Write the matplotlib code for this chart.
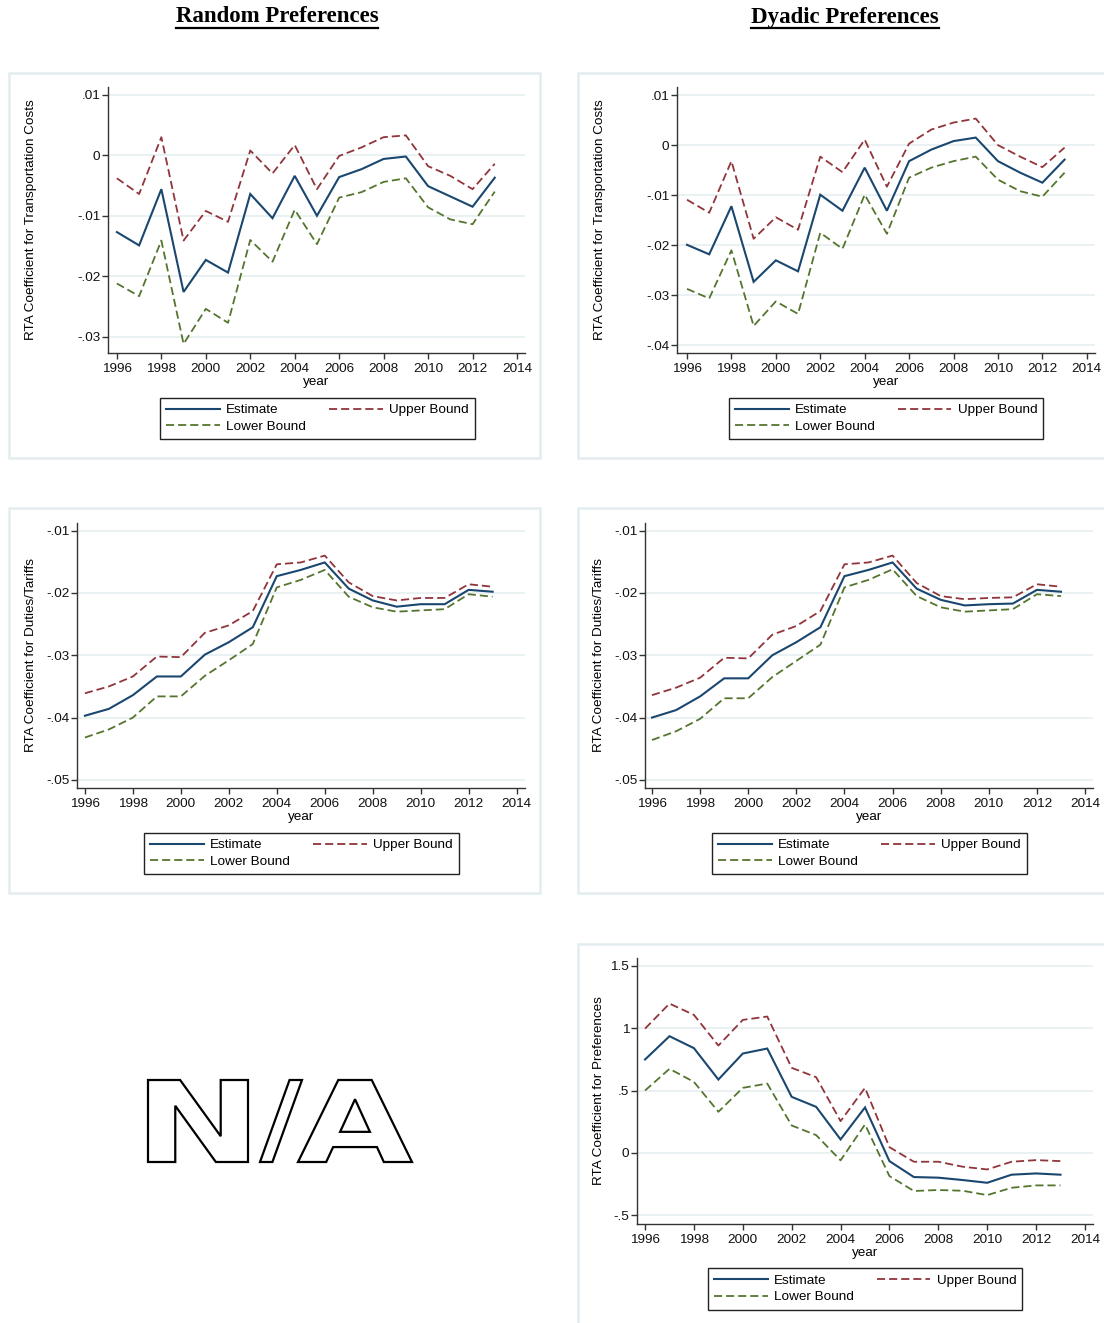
import matplotlib
matplotlib.use("Agg")
import matplotlib.pyplot as plt
from matplotlib.lines import Line2D
from matplotlib.patches import Rectangle, PathPatch
from matplotlib.textpath import TextPath
from matplotlib.font_manager import FontProperties
from matplotlib.transforms import Affine2D

plt.rcParams['font.family'] = ['Liberation Sans', 'DejaVu Sans']

W, H = 1104, 1323

years = list(range(1996, 2014))
xticks = list(range(1996, 2015, 2))

# Random preferences - transportation costs
rand_tc_est = [-0.0127, -0.0149, -0.0056, -0.0226, -0.0173, -0.0194, -0.0064, -0.0104, -0.0034,
               -0.0100, -0.0036, -0.0023, -0.0006, -0.0002, -0.0051, -0.0068, -0.0085, -0.0037]
rand_tc_up = [-0.0038, -0.0064, 0.0030, -0.0141, -0.0092, -0.0110, 0.0008, -0.0030, 0.0017,
              -0.0056, -0.0001, 0.0013, 0.0030, 0.0033, -0.0018, -0.0034, -0.0056, -0.0014]
rand_tc_lo = [-0.0212, -0.0233, -0.0141, -0.0312, -0.0254, -0.0277, -0.0140, -0.0176, -0.0090,
              -0.0147, -0.0070, -0.0061, -0.0044, -0.0038, -0.0086, -0.0106, -0.0114, -0.0060]

# Dyadic preferences - transportation costs
dyad_tc_est = [-0.0199, -0.0218, -0.0122, -0.0273, -0.0230, -0.0252, -0.0099, -0.0131, -0.0045,
               -0.0131, -0.0032, -0.0009, 0.0008, 0.0015, -0.0032, -0.0055, -0.0075, -0.0029]
dyad_tc_up = [-0.0109, -0.0135, -0.0032, -0.0187, -0.0144, -0.0169, -0.0023, -0.0054, 0.0011,
              -0.0083, 0.0003, 0.0031, 0.0045, 0.0053, 0.0000, -0.0023, -0.0044, -0.0005]
dyad_tc_lo = [-0.0287, -0.0306, -0.0210, -0.0361, -0.0312, -0.0337, -0.0175, -0.0207, -0.0099,
              -0.0177, -0.0065, -0.0045, -0.0032, -0.0023, -0.0069, -0.0092, -0.0103, -0.0055]

# Random preferences - duties/tariffs
rand_dt_est = [-0.0397, -0.0386, -0.0364, -0.0334, -0.0334, -0.0299, -0.0279, -0.0255, -0.0173,
               -0.0163, -0.0151, -0.0193, -0.0212, -0.0222, -0.0218, -0.0218, -0.0195, -0.0198]
rand_dt_up = [-0.0361, -0.0350, -0.0334, -0.0302, -0.0303, -0.0264, -0.0252, -0.0229, -0.0154,
              -0.0151, -0.0140, -0.0183, -0.0205, -0.0212, -0.0208, -0.0208, -0.0186, -0.0190]
rand_dt_lo = [-0.0432, -0.0419, -0.0400, -0.0366, -0.0366, -0.0333, -0.0308, -0.0282, -0.0191,
              -0.0179, -0.0163, -0.0206, -0.0223, -0.0230, -0.0228, -0.0226, -0.0202, -0.0206]

# Dyadic preferences - duties/tariffs
dyad_dt_est = [-0.0400, -0.0388, -0.0366, -0.0337, -0.0337, -0.0300, -0.0279, -0.0255, -0.0173,
               -0.0163, -0.0151, -0.0193, -0.0211, -0.0220, -0.0218, -0.0217, -0.0195, -0.0198]
dyad_dt_up = [-0.0364, -0.0352, -0.0336, -0.0304, -0.0305, -0.0267, -0.0253, -0.0229, -0.0154,
              -0.0151, -0.0140, -0.0184, -0.0205, -0.0210, -0.0208, -0.0207, -0.0186, -0.0190]
dyad_dt_lo = [-0.0436, -0.0422, -0.0402, -0.0369, -0.0369, -0.0335, -0.0309, -0.0283, -0.0191,
              -0.0179, -0.0162, -0.0205, -0.0223, -0.0230, -0.0228, -0.0226, -0.0202, -0.0205]

# Dyadic preferences - preferences
dyad_pr_est = [0.749, 0.936, 0.840, 0.588, 0.797, 0.837, 0.449, 0.369, 0.107,
               0.364, -0.067, -0.195, -0.200, -0.219, -0.241, -0.176, -0.166, -0.176]
dyad_pr_up = [0.997, 1.198, 1.107, 0.861, 1.067, 1.094, 0.682, 0.607, 0.254,
              0.521, 0.045, -0.072, -0.072, -0.112, -0.134, -0.072, -0.059, -0.067]
dyad_pr_lo = [0.500, 0.674, 0.569, 0.329, 0.521, 0.556, 0.219, 0.142, -0.061,
              0.227, -0.187, -0.307, -0.299, -0.305, -0.340, -0.281, -0.262, -0.262]

tc_ticks_rand = [0.01, 0, -0.01, -0.02, -0.03]
tc_labels_rand = ['.01', '0', '-.01', '-.02', '-.03']
tc_ticks_dyad = [0.01, 0, -0.01, -0.02, -0.03, -0.04]
tc_labels_dyad = ['.01', '0', '-.01', '-.02', '-.03', '-.04']
dt_ticks = [-0.01, -0.02, -0.03, -0.04, -0.05]
dt_labels = ['-.01', '-.02', '-.03', '-.04', '-.05']
pr_ticks = [1.5, 1, 0.5, 0, -0.5]
pr_labels = ['1.5', '1', '.5', '0', '-.5']

NAVY = '#1a476f'
MAROON = '#90353b'
GREEN = '#55752f'
GRID = '#e8f0f2'
FS = 9.7

fig = plt.figure(figsize=(W / 100, H / 100), dpi=100)

# background layer in pixel coordinates
bg = fig.add_axes([0, 0, 1, 1], zorder=-1)
bg.set_xlim(0, W)
bg.set_ylim(H, 0)
bg.axis('off')

for (x0, y0, x1, y1) in [(9, 73, 540, 458), (578, 73, 1110, 458),
                         (9, 508, 540, 893), (578, 508, 1110, 893),
                         (578, 944, 1110, 1330)]:
    bg.add_patch(Rectangle((x0, y0), x1 - x0, y1 - y0, facecolor='white',
                           edgecolor='#e3edf0', lw=1.8))

# column titles, underlined
fig.canvas.draw()
renderer = fig.canvas.get_renderer()
for cx, title in [(277, 'Random Preferences'), (845, 'Dyadic Preferences')]:
    t = bg.text(cx, 17, title, ha='center', va='center', fontsize=16.5,
                fontweight='bold', family=['Liberation Serif', 'DejaVu Serif'])
    bb = t.get_window_extent(renderer)
    bg.plot([bb.x0, bb.x1], [27.5, 27.5], color='black', lw=1.6)

# N/A placeholder, one outlined glyph per box
na_font = FontProperties(family='DejaVu Sans', weight='bold')
for ch, (gx0, gx1) in [('N', (148, 248)), ('/', (260, 302)), ('A', (298, 412))]:
    tp = TextPath((0, 0), ch, prop=na_font)
    vb = tp.get_extents()
    gy0, gy1 = 1080, 1162
    tr = Affine2D().translate(-vb.x0, -vb.y0).scale((gx1 - gx0) / vb.width,
                                                    -(gy1 - gy0) / vb.height).translate(gx0, gy1)
    bg.add_patch(PathPatch(tr.transform_path(tp), facecolor='white', edgecolor='black', lw=1.6))


def make_panel(rect, xlim, ylim, ticks, labels, est, up, lo, ylab, ylab_x, leg_c):
    left, top, right, bottom = rect
    ax = fig.add_axes([left / W, 1 - bottom / H, (right - left) / W, (bottom - top) / H])
    ax.plot(years, est, color=NAVY, lw=1.5, solid_joinstyle='miter')
    ax.plot(years, up, color=MAROON, lw=1.3, dashes=(4.5, 2.2))
    ax.plot(years, lo, color=GREEN, lw=1.3, dashes=(4.5, 2.2))
    ax.set_xlim(*xlim)
    ax.set_ylim(*ylim)
    ax.set_xticks(xticks)
    ax.set_yticks(ticks)
    ax.set_yticklabels(labels)
    for y in ticks:
        ax.axhline(y, color=GRID, lw=1.3, zorder=0)
    for s in ['top', 'right']:
        ax.spines[s].set_visible(False)
    for s in ['left', 'bottom']:
        ax.spines[s].set_color('#333333')
        ax.spines[s].set_linewidth(1.0)
    ax.tick_params(axis='both', direction='out', length=4, width=1.0, color='#333333',
                   labelsize=FS, labelcolor='#111111', pad=1.5)
    ax.tick_params(axis='x', pad=3)
    ax.set_xlabel('year', fontsize=FS, labelpad=1)
    ax.set_ylabel(ylab, fontsize=FS)
    ax.yaxis.set_label_coords(-(left - ylab_x) / (right - left), 0.5)
    handles = [Line2D([], [], color=NAVY, lw=1.5),
               Line2D([], [], color=GREEN, lw=1.3, dashes=(4.5, 2.2)),
               Line2D([], [], color=MAROON, lw=1.3, dashes=(4.5, 2.2))]
    leg = ax.legend(handles, ['Estimate', 'Lower Bound', 'Upper Bound'], ncol=2,
                    loc='center', bbox_to_anchor=(leg_c[0] / W, 1 - leg_c[1] / H),
                    bbox_transform=fig.transFigure, fontsize=FS, frameon=True,
                    fancybox=False, framealpha=1, edgecolor='#222222',
                    handlelength=4.0, handletextpad=0.45, columnspacing=1.7,
                    borderpad=0.45, labelspacing=0.3, borderaxespad=0)
    leg.get_frame().set_linewidth(1.0)
    return ax


make_panel((108, 87, 525, 353), (1995.6, 2014.36), (-0.0327, 0.0113),
           tc_ticks_rand, tc_labels_rand, rand_tc_est, rand_tc_up, rand_tc_lo,
           'RTA Coefficient for Transportation Costs', 37, (317.5, 418.5))
make_panel((677, 87, 1095, 353), (1995.55, 2014.37), (-0.0415, 0.0116),
           tc_ticks_dyad, tc_labels_dyad, dyad_tc_est, dyad_tc_up, dyad_tc_lo,
           'RTA Coefficient for Transportation Costs', 606, (886, 418.5))
make_panel((77, 523, 525, 788), (1995.67, 2014.35), (-0.0513, -0.00877),
           dt_ticks, dt_labels, rand_dt_est, rand_dt_up, rand_dt_lo,
           'RTA Coefficient for Duties/Tariffs', 37, (301.5, 853.5))
make_panel((645, 523, 1093, 788), (1995.71, 2014.33), (-0.0513, -0.00877),
           dt_ticks, dt_labels, dyad_dt_est, dyad_dt_up, dyad_dt_lo,
           'RTA Coefficient for Duties/Tariffs', 605, (869.5, 853.5))
make_panel((637, 958, 1093, 1224), (1995.67, 2014.33), (-0.572, 1.564),
           pr_ticks, pr_labels, dyad_pr_est, dyad_pr_up, dyad_pr_lo,
           'RTA Coefficient for Preferences', 605, (865, 1289))

fig.savefig('out.png', dpi=100)
